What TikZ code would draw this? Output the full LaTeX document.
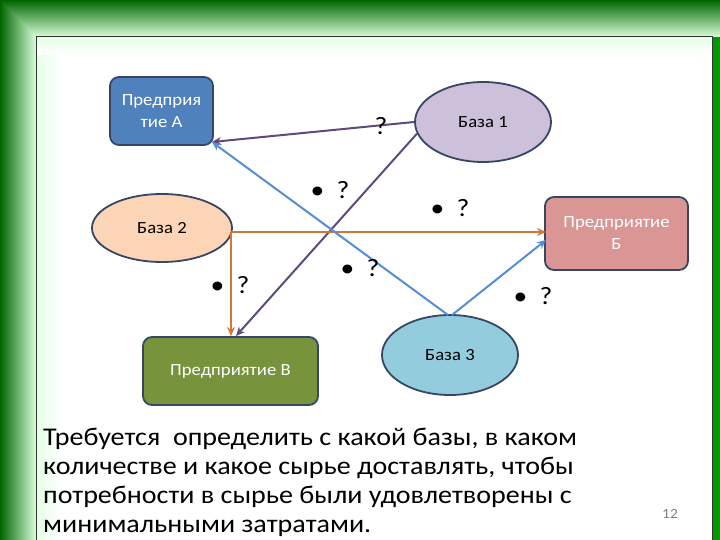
\documentclass[tikz,border=0pt]{standalone}
\usepackage{fontspec}
\setmainfont{Carlito}[FakeStretch=1.1]
\usetikzlibrary{arrows.meta,shapes.geometric}
\definecolor{cA}{RGB}{79,129,189}
\definecolor{cB}{RGB}{217,150,148}
\definecolor{cV}{RGB}{119,147,60}
\definecolor{c1}{RGB}{204,192,218}
\definecolor{c2}{RGB}{251,213,181}
\definecolor{c3}{RGB}{147,205,221}
\definecolor{lp}{RGB}{96,74,123}
\definecolor{lo}{RGB}{210,120,50}
\definecolor{lb}{RGB}{85,142,213}
\definecolor{edge}{RGB}{55,70,100}
\begin{document}
\begin{tikzpicture}[x=1pt,y=-1pt,
  box/.style={draw=edge, line width=1.8pt, rounded corners=9pt, inner sep=0pt, font=\fontsize{17}{22}\selectfont, text=white, align=center},
  base/.style={ellipse, draw=edge, line width=1.8pt, inner sep=0pt, font=\fontsize{17}{20}\selectfont},
  arr/.style={line width=2pt, -{Stealth[length=9pt,width=8pt]}},
  q/.style={font=\fontsize{25}{28}\selectfont}]
\useasboundingbox (0,0) rectangle (720,540);
\shade[left color=green!35!black, right color=green!60!black] (0,0) rectangle (720,540);
\shade[top color=green!40!black, bottom color=green!15!white] (0,0) rectangle (720,37);
\shade[left color=green!40!black, right color=green!15!white] (0,0) -- (36,37) -- (36,540) -- (0,540) -- cycle;
\fill[white] (36,37) rectangle (712,540);
\shade[left color=green!10!white, right color=white] (37,38) rectangle (60,540);
\shade[top color=green!10!white, bottom color=white] (37,38) rectangle (711,55);
\draw[black!80, line width=1pt] (36,540) -- (36,37) -- (712,37) -- (712,540);
\node[box, fill=cA, minimum width=103, minimum height=68] (A) at (161.5,111) {Предприя\\тие А};
\node[box, fill=cB, minimum width=143, minimum height=73] (B) at (616.5,233.5) {Предприятие\\Б};
\node[box, fill=cV, minimum width=175, minimum height=68] (V) at (230.5,371) {Предприятие В};
\node[base, fill=c1, minimum width=136, minimum height=80] (b1) at (483,122) {База 1};
\node[base, fill=c2, minimum width=140, minimum height=68] (b2) at (162,228) {База 2};
\node[base, fill=c3, minimum width=136, minimum height=80] (b3) at (450,355) {База 3};
\coordinate (ac) at (212,142);
\coordinate (bo) at (231,232);
\coordinate (vt) at (236,336);
\coordinate (vo) at (231,336);
\coordinate (bt) at (546,232);
\coordinate (bb) at (546,240);
\coordinate (t3a) at (448,315);
\coordinate (t3b) at (452,315);
\draw[arr, lp] (b1.west) -- (ac);
\draw[arr, lp] (b1.190) -- (vt);
\draw[arr, lo] (bo) -- (bt);
\draw[arr, lo] (bo) -- (vo);
\draw[arr, lb] (t3a) -- (ac);
\draw[arr, lb] (t3b) -- (bb);
\node[q] (q1) at (381,126) {?};
\node[q] (q2) at (330,190) {•\ \ ?};
\node[q] (q3) at (450,208) {•\ \ ?};
\node[q] (q4) at (230,285) {•\ \ ?};
\node[q] (q5) at (360,268) {•\ \ ?};
\node[q] (q6) at (533,296) {•\ \ ?};
\node[anchor=north west, align=left, font=\fontsize{25.5}{29}\selectfont, inner sep=0pt] (txt) at (43,428) {Требуется\ \ определить с какой базы, в каком\\количестве и какое сырье доставлять, чтобы\\потребности в сырье были удовлетворены с\\минимальными затратами.};
\node[font=\fontsize{14}{16}\selectfont, text=black!50] (pg) at (670,514) {12};
\end{tikzpicture}
\end{document}
